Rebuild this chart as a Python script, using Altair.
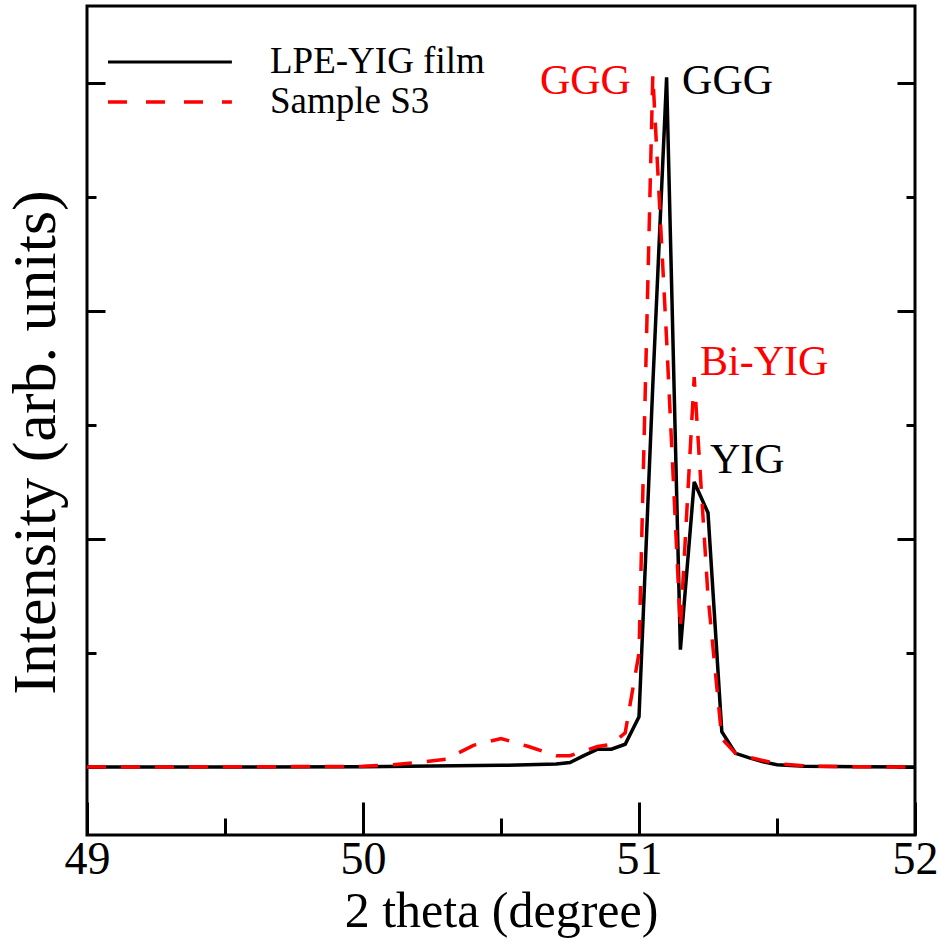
import altair as alt
import pandas as pd

# ---- data ----
# LPE-YIG film (black solid line)
x_film = [49.0, 49.5, 50.0, 50.5, 50.7, 50.75, 50.8, 50.85, 50.9, 50.95, 51.0, 51.05,
          51.1, 51.15, 51.2, 51.25, 51.3, 51.35, 51.4, 51.45, 51.5, 51.6, 51.8, 52.0]
y_film = [0.0, 0.0, 0.003, 0.015, 0.026, 0.04, 0.10, 0.157, 0.157, 0.20, 0.44, 3.35,
          6.05, 1.03, 2.50, 2.23, 0.31, 0.12, 0.08, 0.045, 0.02, 0.008, 0.002, 0.0]
# Sample S3 (red dashed line)
x_s3 = [49.0, 49.5, 50.0, 50.1, 50.2, 50.3, 50.4, 50.5, 50.6, 50.7, 50.75, 50.85, 50.9,
        50.95, 51.0, 51.05, 51.1, 51.15, 51.2, 51.25, 51.3, 51.35, 51.4, 51.5, 51.6, 51.8, 52.0]
y_s3 = [0.0, 0.002, 0.006, 0.018, 0.04, 0.068, 0.19, 0.25, 0.18, 0.10, 0.10, 0.18, 0.20,
        0.30, 1.0, 6.07, 3.75, 1.22, 3.42, 1.5, 0.25, 0.12, 0.085, 0.03, 0.01, 0.002, 0.0]

x_major = [49, 50, 51, 52]
x_minor = [49.5, 50.5, 51.5]
y_major = [0, 2, 4, 6]
y_minor = [1, 3, 5]

ann_text = ["GGG", "GGG", "Bi-YIG", "YIG"]
ann_x = [50.641, 51.156, 51.221, 51.257]
ann_y = [5.904, 5.904, 3.439, 2.579]
ann_color = ["#ff0000", "#000000", "#ff0000", "#000000"]

legend_labels = ["LPE-YIG film", "Sample S3"]

X_DOMAIN = [49, 52]
Y_DOMAIN = [-0.596, 6.675]
FONT = "Liberation Serif"
W, H = 828, 829

film = pd.DataFrame({"x": x_film, "y": y_film})
s3 = pd.DataFrame({"x": x_s3, "y": y_s3})
ann = pd.DataFrame({"text": ann_text, "x": ann_x, "y": ann_y, "color": ann_color})
leg_rule_black = pd.DataFrame({"x0": [49.076], "x1": [49.525], "y": [6.184]})
leg_rule_red = pd.DataFrame({"x0": [49.076], "x1": [49.525], "y": [5.833]})
leg_text = pd.DataFrame({"text": legend_labels, "x": [49.663, 49.663], "y": [6.088, 5.737]})

xs = alt.Scale(domain=X_DOMAIN, nice=False, zero=False)
ys = alt.Scale(domain=Y_DOMAIN, nice=False, zero=False)


def tick_axis(orient, values, size):
    return alt.Axis(orient=orient, offset=-size, tickSize=size, tickWidth=3,
                    tickColor="black", values=values, domain=False, labels=False,
                    grid=False, title=None)


x_main = alt.Axis(orient="bottom", values=x_major, ticks=False, tickSize=0, domain=False,
                  grid=False, labelFont=FONT, labelFontSize=46, labelColor="black",
                  labelPadding=2, labelFlush=False, labelOverlap=False,
                  title="2 theta (degree)", titleFont=FONT,
                  titleFontSize=50, titleFontWeight="normal", titleColor="black",
                  titlePadding=4)
y_main = alt.Axis(orient="left", ticks=False, tickSize=0, domain=False, grid=False,
                  labels=False, title="Intensity (arb. units)", titleFont=FONT,
                  titleFontSize=62, titleFontWeight="normal", titleColor="black",
                  titlePadding=20, titleY=436)

l_film = alt.Chart(film).mark_line(color="black", strokeWidth=3.5).encode(
    x=alt.X("x:Q", scale=xs, axis=x_main),
    y=alt.Y("y:Q", scale=ys, axis=y_main),
)
l_s3 = alt.Chart(s3).mark_line(color="#ff0000", strokeWidth=3.5, strokeDash=[19, 15],
                               strokeCap="butt").encode(
    x=alt.X("x:Q", scale=xs, axis=tick_axis("bottom", x_major, 33)),
    y=alt.Y("y:Q", scale=ys, axis=tick_axis("left", y_major, 18)),
)
l_ann = alt.Chart(ann).mark_text(font=FONT, fontSize=42, align="left",
                                 baseline="alphabetic").encode(
    x=alt.X("x:Q", scale=xs, axis=tick_axis("bottom", x_minor, 17)),
    y=alt.Y("y:Q", scale=ys, axis=tick_axis("left", y_minor, 9)),
    text="text:N",
    color=alt.Color("color:N", scale=None),
)
l_leg_black = alt.Chart(leg_rule_black).mark_rule(color="black", strokeWidth=3).encode(
    x=alt.X("x0:Q", scale=xs, axis=None),
    x2="x1:Q",
    y=alt.Y("y:Q", scale=ys, axis=tick_axis("right", y_major, 18)),
)
l_leg_red = alt.Chart(leg_rule_red).mark_rule(color="#ff0000", strokeWidth=3.5,
                                              strokeDash=[19, 19], strokeCap="butt").encode(
    x=alt.X("x0:Q", scale=xs, axis=None),
    x2="x1:Q",
    y=alt.Y("y:Q", scale=ys, axis=tick_axis("right", y_minor, 9)),
)
l_leg_text = alt.Chart(leg_text).mark_text(font=FONT, fontSize=37, align="left",
                                           baseline="alphabetic", color="black").encode(
    x=alt.X("x:Q", scale=xs, axis=None),
    y=alt.Y("y:Q", scale=ys, axis=None),
    text="text:N",
)

chart = alt.layer(l_film, l_s3, l_ann, l_leg_black, l_leg_red, l_leg_text).resolve_axis(
    x="independent", y="independent"
).properties(
    width=W, height=H,
    autosize=alt.AutoSizeParams(type="none"),
    padding={"left": 87, "top": 6, "right": 25, "bottom": 113},
    background="white",
).configure(
    font=FONT
).configure_axis(
    labelFont=FONT, titleFont=FONT, titleFontWeight="normal"
).configure_text(
    font=FONT
).configure_view(stroke="black", strokeWidth=3)

chart.save("out.html", embed_options={"renderer": "svg", "actions": False})
